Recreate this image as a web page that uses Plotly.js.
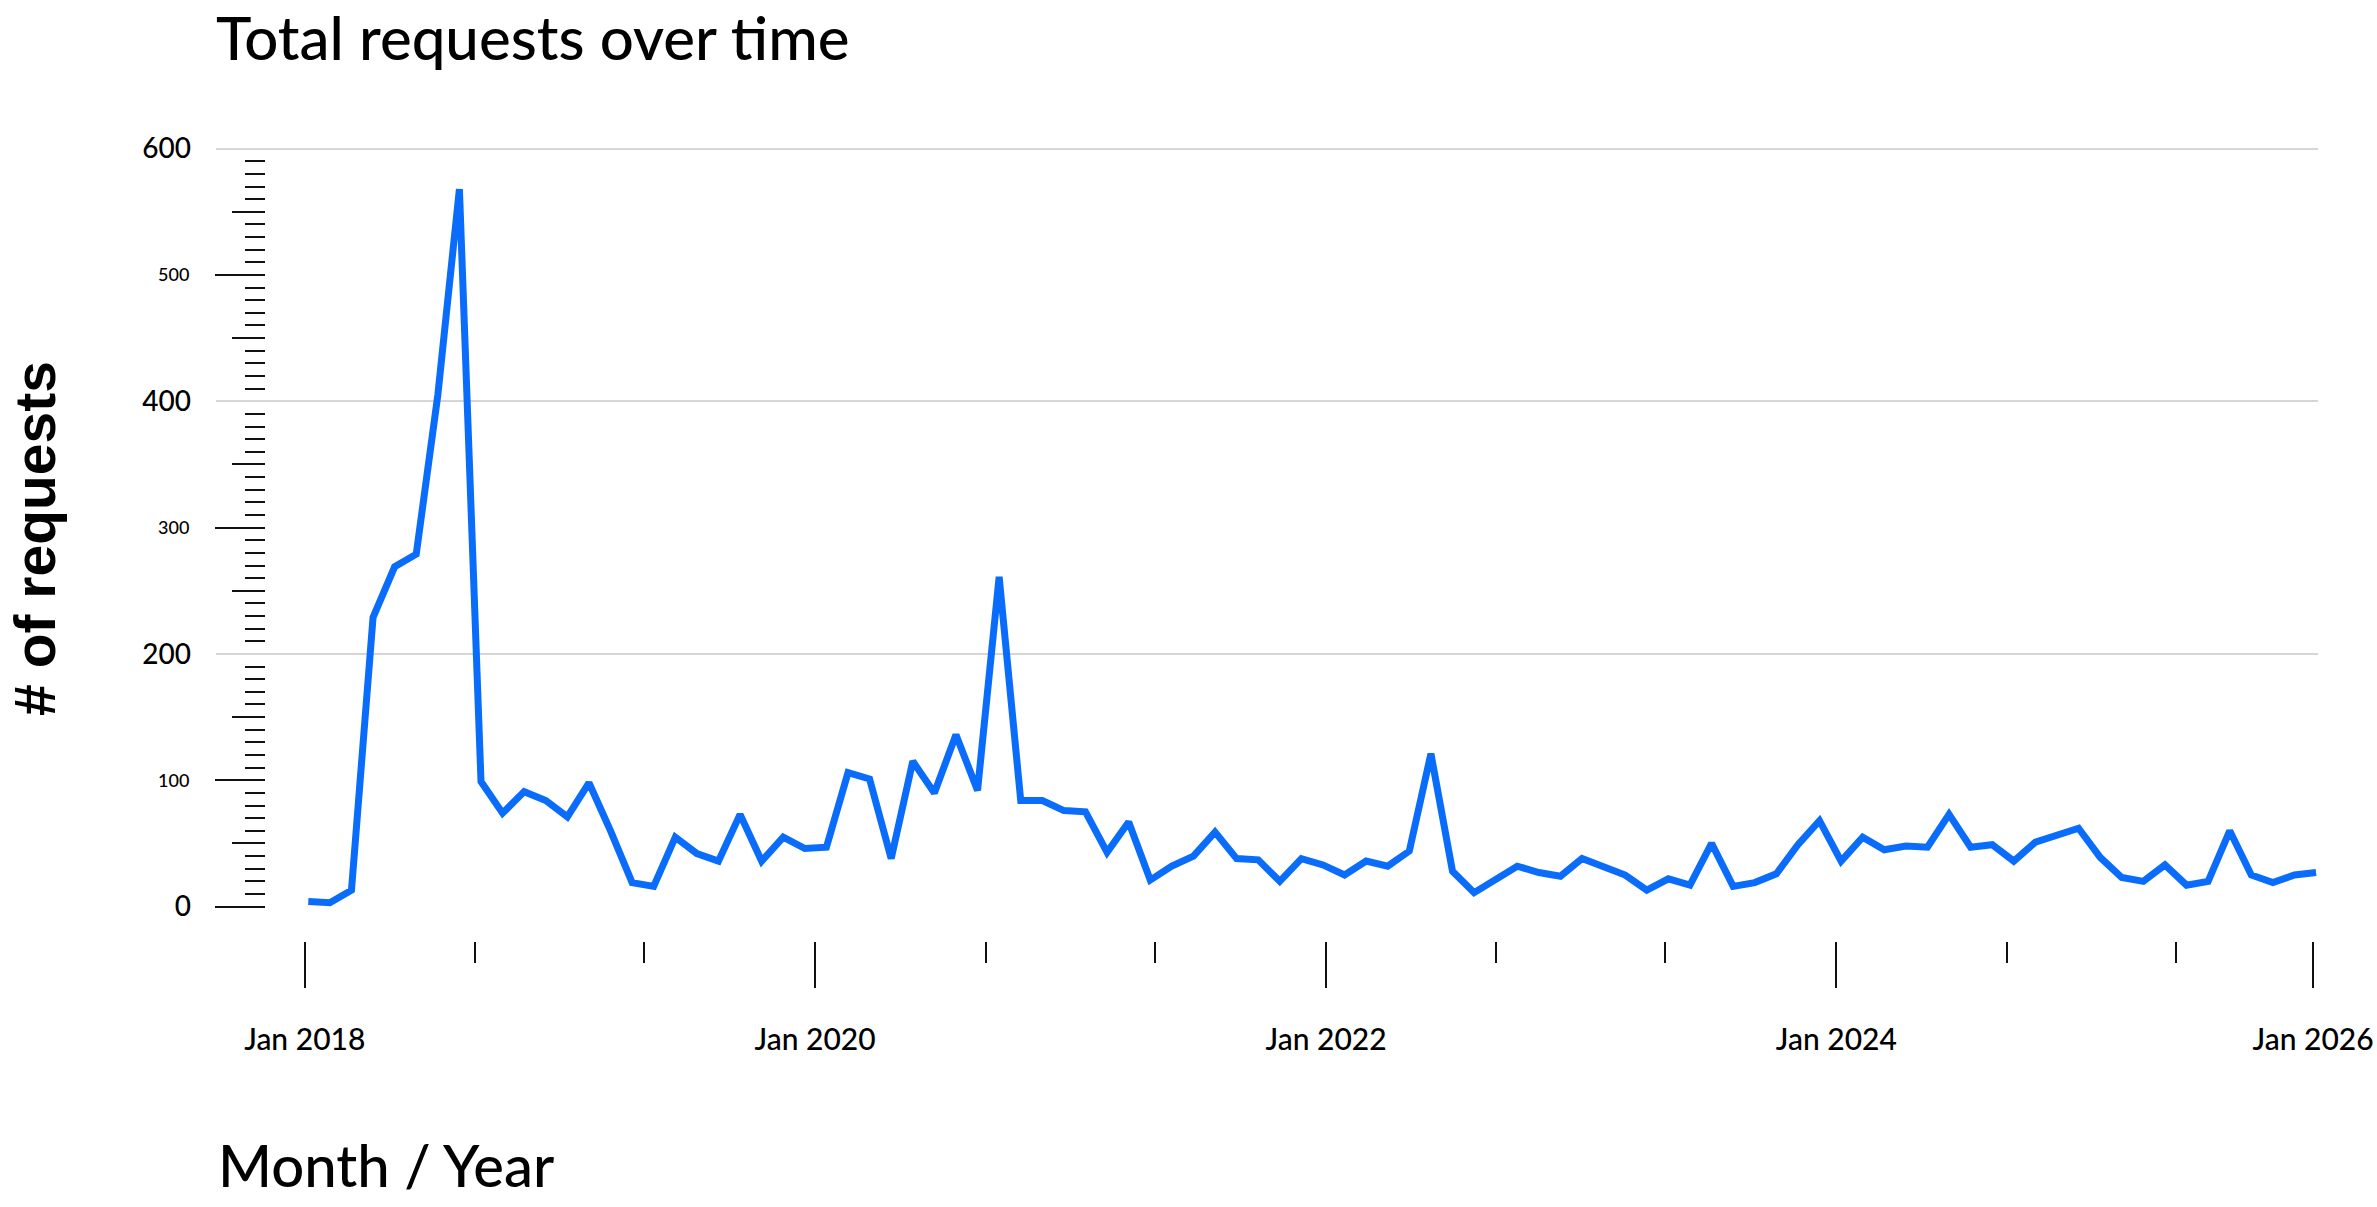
<!DOCTYPE html>
<html>
<head>
<meta charset="utf-8">
<script src="https://cdn.plot.ly/plotly-3.0.1.min.js"></script>
<style>
  html, body { margin: 0; padding: 0; background: #fff; }
  #chart { width: 2377px; height: 1207px; }
</style>
</head>
<body>
<div id="chart"></div>
<script>
// one point per month
var months = [
  '2018-01','2018-02','2018-03','2018-04','2018-05','2018-06','2018-07','2018-08','2018-09','2018-10','2018-11','2018-12',
  '2019-01','2019-02','2019-03','2019-04','2019-05','2019-06','2019-07','2019-08','2019-09','2019-10','2019-11','2019-12',
  '2020-01','2020-02','2020-03','2020-04','2020-05','2020-06','2020-07','2020-08','2020-09','2020-10','2020-11','2020-12',
  '2021-01','2021-02','2021-03','2021-04','2021-05','2021-06','2021-07','2021-08','2021-09','2021-10','2021-11','2021-12',
  '2022-01','2022-02','2022-03','2022-04','2022-05','2022-06','2022-07','2022-08','2022-09','2022-10','2022-11','2022-12',
  '2023-01','2023-02','2023-03','2023-04','2023-05','2023-06','2023-07','2023-08','2023-09','2023-10','2023-11','2023-12',
  '2024-01','2024-02','2024-03','2024-04','2024-05','2024-06','2024-07','2024-08','2024-09','2024-10','2024-11','2024-12',
  '2025-01','2025-02','2025-03','2025-04','2025-05','2025-06','2025-07','2025-08','2025-09','2025-10'
];

var requests = [
  4, 3, 13, 229, 269, 279, 405, 568, 99, 74, 91, 84,
  71, 98, 60, 19, 16, 55, 42, 36, 73, 36, 55, 46,
  47, 106, 101, 38, 115, 90, 136, 92, 261, 84, 84, 76,
  75, 43, 67, 21, 32, 40, 59, 38, 37, 20, 38, 33,
  25, 36, 32, 44, 121, 28, 11, 22, 32, 27, 24, 38,
  31, 25, 13, 22, 17, 50, 16, 19, 26, 49, 68, 36,
  55, 45, 48, 47, 73, 47, 49, 36, 51, 57, 62, 39,
  23, 20, 33, 17, 20, 60, 25, 19, 25, 27
];

// x axis ticks
var yearTicks = ['2018-01-01', '2020-01-01', '2022-01-01', '2024-01-01', '2025-11-13'];
var yearLabels = ['Jan 2018', 'Jan 2020', 'Jan 2022', 'Jan 2024', 'Jan 2026'];
var minorTicks = ['2018-09-01', '2019-05-01', '2020-09-01', '2021-05-01',
                  '2022-09-01', '2023-05-01', '2024-09-01', '2025-05-01'];

// y axis ticks
var gridTicks = [0, 200, 400, 600];
var oddHundreds = [0, 100, 300, 500];
var oddHundredLabels = ['', '100', '300', '500'];
var fifties = [50, 150, 250, 350, 450, 550];
var tens = [];
for (var v = 10; v < 600; v += 10) {
  if (v % 50 !== 0) tens.push(v);
}

var blue = '#0a6cfa';
var ink = '#111111';
var tickPos = 0.0233;
var yRange = [-27.23, 610];

var line = {
  x: months,
  y: requests,
  type: 'scatter',
  mode: 'lines',
  line: { color: blue, width: 7 },
  hoverinfo: 'skip',
  showlegend: false
};

// empty copies so the extra tick axes get drawn
function holder(xa, ya) {
  return { x: months, y: requests, xaxis: xa, yaxis: ya, type: 'scatter', mode: 'none', hoverinfo: 'skip', showlegend: false };
}

var tickFont = { family: 'Lato, sans-serif', size: 28, color: '#000', weight: 500 };

var layout = {
  width: 2377,
  height: 1207,
  margin: { l: 216, r: 59, t: 136, b: 266 },
  paper_bgcolor: '#ffffff',
  plot_bgcolor: '#ffffff',
  font: { family: 'Lato, sans-serif', color: '#000' },
  showlegend: false,
  title: {
    text: 'Total requests over time',
    font: { family: 'Lato, sans-serif', size: 60, color: '#000', weight: 500 },
    xref: 'paper', x: 0, xanchor: 'left',
    yref: 'container', y: 0.968, yanchor: 'middle'
  },
  xaxis: {
    type: 'category',
    range: [-4.275, 93.09],
    showgrid: false, zeroline: false, showline: false,
    showticklabels: false, ticks: ''
  },
  xaxis2: {
    type: 'date',
    overlaying: 'x',
    anchor: 'y',
    side: 'bottom',
    range: ['2017-08-27', '2025-11-20'],
    tickmode: 'array',
    tickvals: yearTicks,
    ticktext: yearLabels,
    ticks: 'outside', ticklen: 46, tickwidth: 2, tickcolor: ink,
    ticklabelstandoff: 26,
    tickfont: { family: 'Lato, sans-serif', size: 30, color: '#000', weight: 500 },
    minor: { tickmode: 'array', tickvals: minorTicks, ticks: 'outside', ticklen: 21, tickwidth: 2, tickcolor: ink },
    showgrid: false, zeroline: false, showline: false
  },
  yaxis: {
    range: yRange,
    tickmode: 'array',
    tickvals: gridTicks,
    ticks: '',
    showgrid: true, gridcolor: '#d6d6d6', gridwidth: 2,
    zeroline: true, zerolinecolor: 'rgba(0,0,0,0)',
    showline: false,
    ticklabelstandoff: 24,
    tickfont: tickFont,
    title: {
      text: '# of requests',
      font: { family: 'Liberation Sans, Arial, sans-serif', size: 57, color: '#000', weight: 700 },
      standoff: 68
    }
  },
  yaxis2: {
    overlaying: 'y', anchor: 'free', position: tickPos, side: 'left',
    range: yRange,
    tickmode: 'array', tickvals: oddHundreds, ticktext: oddHundredLabels,
    ticks: 'outside', ticklen: 50, tickwidth: 2, tickcolor: ink,
    ticklabelstandoff: 22,
    tickfont: { family: 'Lato, sans-serif', size: 18, color: '#000', weight: 500 },
    showgrid: false, zeroline: false, showline: false
  },
  yaxis3: {
    overlaying: 'y', anchor: 'free', position: tickPos, side: 'left',
    range: yRange,
    tickmode: 'array', tickvals: fifties,
    ticks: 'outside', ticklen: 33, tickwidth: 2, tickcolor: ink,
    showticklabels: false,
    showgrid: false, zeroline: false, showline: false
  },
  yaxis4: {
    overlaying: 'y', anchor: 'free', position: tickPos, side: 'left',
    range: yRange,
    tickmode: 'array', tickvals: tens,
    ticks: 'outside', ticklen: 20, tickwidth: 2, tickcolor: ink,
    showticklabels: false,
    showgrid: false, zeroline: false, showline: false
  },
  annotations: [{
    text: 'Month / Year',
    xref: 'paper', x: 0, xanchor: 'left',
    yref: 'paper', y: -0.278, yanchor: 'middle',
    showarrow: false,
    font: { family: 'Lato, sans-serif', size: 58, color: '#000', weight: 500 }
  }]
};

var traces = [
  holder('x2', 'y'),
  holder('x', 'y2'),
  holder('x', 'y3'),
  holder('x', 'y4'),
  line
];

Plotly.newPlot('chart', traces, layout, { displayModeBar: false, staticPlot: true });
</script>
</body>
</html>
